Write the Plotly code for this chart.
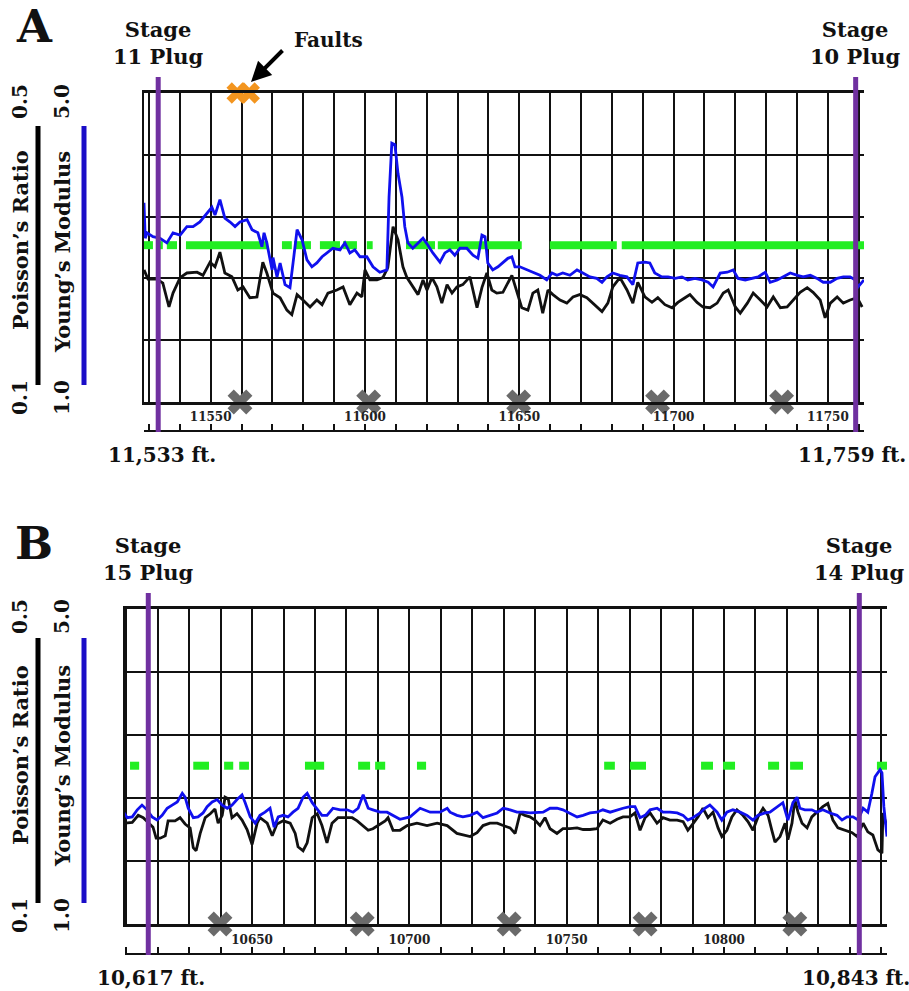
import plotly.graph_objects as go

# ---------------- panel A : Stage 11 -> Stage 10 ----------------
a_pr_depth = [11528.4, 11529.7, 11532.6, 11534.5, 11536.5, 11537.8, 11540.1, 11542.3, 11545.6, 11547.5,
              11549.8, 11551.4, 11553.0, 11554.6, 11556.9, 11558.8, 11560.5, 11562.7, 11565.0, 11566.9,
              11568.2, 11570.2, 11572.5, 11574.7, 11576.3, 11578.0, 11579.9, 11582.2, 11584.4, 11586.1,
              11588.0, 11590.9, 11592.9, 11595.1, 11597.4, 11599.0, 11600.0, 11601.6, 11603.9, 11605.8,
              11607.4, 11609.1, 11610.7, 11612.3, 11613.6, 11615.5, 11617.2, 11618.8, 11620.1, 11621.7,
              11623.3, 11624.9, 11626.6, 11628.2, 11629.8, 11631.7, 11634.0, 11636.3, 11637.9, 11639.5,
              11641.1, 11642.7, 11644.7, 11647.6, 11649.2, 11650.8, 11652.8, 11654.4, 11656.0, 11657.6,
              11659.3, 11660.9, 11663.2, 11665.4, 11667.4, 11669.6, 11671.9, 11674.5, 11676.8, 11678.7,
              11680.3, 11682.6, 11684.9, 11686.8, 11688.4, 11690.7, 11693.0, 11694.9, 11697.2, 11699.5,
              11701.4, 11703.7, 11705.3, 11707.6, 11709.5, 11711.8, 11714.1, 11716.1, 11717.7, 11720.0,
              11721.6, 11723.9, 11725.8, 11728.1, 11730.3, 11732.3, 11734.6, 11736.8, 11738.8, 11741.0,
              11743.3, 11745.2, 11747.5, 11749.1, 11750.8, 11753.0, 11755.0, 11757.2, 11759.5, 11761.1]
a_pr = [0.271, 0.259, 0.259, 0.254, 0.223, 0.241, 0.261, 0.267, 0.268, 0.264,
        0.281, 0.275, 0.294, 0.267, 0.262, 0.245, 0.249, 0.235, 0.236, 0.281,
        0.267, 0.241, 0.235, 0.219, 0.213, 0.239, 0.232, 0.223, 0.232, 0.226,
        0.241, 0.245, 0.249, 0.226, 0.241, 0.236, 0.271, 0.258, 0.258, 0.261,
        0.274, 0.327, 0.310, 0.275, 0.261, 0.249, 0.239, 0.258, 0.245, 0.261,
        0.249, 0.228, 0.252, 0.241, 0.249, 0.252, 0.262, 0.222, 0.248, 0.267,
        0.245, 0.241, 0.242, 0.264, 0.242, 0.222, 0.219, 0.241, 0.245, 0.215,
        0.245, 0.239, 0.232, 0.228, 0.236, 0.239, 0.235, 0.226, 0.217, 0.228,
        0.249, 0.261, 0.245, 0.228, 0.255, 0.236, 0.229, 0.235, 0.226, 0.222,
        0.229, 0.235, 0.239, 0.229, 0.223, 0.222, 0.228, 0.241, 0.245, 0.223,
        0.215, 0.228, 0.241, 0.232, 0.223, 0.236, 0.222, 0.223, 0.232, 0.242,
        0.248, 0.242, 0.232, 0.209, 0.228, 0.236, 0.228, 0.232, 0.235, 0.223]

a_ym_depth = [11528.4, 11528.8, 11529.4, 11531.3, 11533.6, 11535.8, 11537.8, 11540.1, 11542.3, 11544.3,
              11546.5, 11548.8, 11550.4, 11551.4, 11553.0, 11554.6, 11556.3, 11557.9, 11559.5, 11561.8,
              11563.4, 11565.3, 11566.6, 11567.3, 11568.2, 11569.9, 11570.2, 11571.5, 11572.5, 11574.1,
              11575.7, 11576.7, 11578.0, 11579.6, 11581.2, 11582.8, 11584.4, 11586.1, 11587.7, 11589.6,
              11591.9, 11593.5, 11595.1, 11596.7, 11598.4, 11600.6, 11602.6, 11604.8, 11607.1, 11607.8,
              11608.7, 11609.7, 11610.7, 11612.0, 11612.9, 11613.9, 11615.5, 11617.2, 11618.8, 11620.4,
              11622.0, 11624.3, 11625.9, 11627.5, 11629.1, 11630.8, 11633.0, 11635.0, 11636.6, 11637.9,
              11638.9, 11639.8, 11641.4, 11643.1, 11644.7, 11646.3, 11647.6, 11648.6, 11650.2, 11652.5,
              11654.4, 11656.7, 11658.9, 11660.6, 11662.2, 11664.1, 11666.4, 11668.7, 11670.6, 11672.9,
              11675.1, 11676.8, 11678.4, 11680.3, 11682.6, 11684.9, 11686.8, 11688.4, 11690.7, 11692.3,
              11693.9, 11696.2, 11698.2, 11700.5, 11702.7, 11704.6, 11706.9, 11709.2, 11711.2, 11712.8,
              11715.1, 11717.4, 11719.3, 11720.9, 11723.2, 11725.5, 11727.4, 11729.7, 11731.3, 11733.6,
              11735.5, 11737.8, 11740.1, 11742.0, 11744.3, 11746.5, 11748.5, 11750.8, 11753.0, 11755.0,
              11757.2, 11758.9, 11759.8, 11761.7]
a_ym = [3.58, 3.12, 3.19, 3.14, 3.12, 3.06, 3.19, 3.16, 3.27, 3.27,
        3.33, 3.45, 3.52, 3.42, 3.62, 3.38, 3.33, 3.27, 3.33, 3.36,
        3.23, 3.19, 3.01, 3.19, 3.06, 2.71, 2.87, 2.62, 2.80, 2.52,
        2.48, 2.80, 3.23, 3.10, 2.84, 2.75, 2.80, 2.88, 2.93, 2.99,
        2.97, 3.06, 2.93, 2.97, 2.88, 2.88, 2.75, 2.68, 2.71, 3.65,
        4.35, 4.33, 3.96, 3.65, 3.27, 3.06, 2.99, 3.06, 3.12, 3.03,
        2.93, 2.81, 2.93, 2.97, 2.90, 2.99, 2.99, 2.90, 2.86, 3.16,
        3.14, 2.80, 2.71, 2.75, 2.80, 2.86, 2.88, 2.75, 2.75, 2.71,
        2.67, 2.64, 2.58, 2.67, 2.64, 2.67, 2.64, 2.71, 2.67, 2.62,
        2.60, 2.55, 2.62, 2.67, 2.64, 2.62, 2.52, 2.80, 2.81, 2.80,
        2.67, 2.62, 2.62, 2.60, 2.62, 2.58, 2.60, 2.58, 2.55, 2.49,
        2.67, 2.68, 2.71, 2.60, 2.58, 2.60, 2.62, 2.68, 2.55, 2.58,
        2.62, 2.67, 2.64, 2.62, 2.64, 2.60, 2.55, 2.55, 2.60, 2.62,
        2.62, 2.58, 2.49, 2.58]

a_flag_start = [11528.4, 11532.6, 11535.8, 11542.0, 11573.1, 11577.0, 11585.4, 11592.9, 11600.6,
                11613.3, 11623.6, 11659.9, 11683.2]
a_flag_end = [11531.3, 11534.5, 11539.1, 11568.6, 11576.3, 11582.5, 11591.9, 11597.4, 11602.5,
              11622.7, 11650.8, 11681.6, 11761.7]
a_flag_level = 0.303
a_faults = [11558.6, 11562.5]
a_crosses = [11559.5, 11601.2, 11649.8, 11694.8, 11735.0]
a_plugs = [11533, 11759]
a_plug_names = ["Stage<br>11 Plug", "Stage<br>10 Plug"]
a_depth_labels = ["11,533 ft.", "11,759 ft."]

# ---------------- panel B : Stage 15 -> Stage 14 ----------------
b_pr_depth = [10608.7, 10609.6, 10611.9, 10613.8, 10615.4, 10617.0, 10618.5, 10619.5, 10620.8, 10622.4,
              10623.3, 10625.5, 10627.1, 10628.7, 10630.3, 10631.3, 10632.2, 10633.5, 10635.1, 10636.7,
              10638.2, 10639.2, 10640.5, 10641.4, 10642.4, 10643.6, 10645.2, 10646.8, 10648.4, 10650.0,
              10651.6, 10652.5, 10654.8, 10656.4, 10657.9, 10659.9, 10662.1, 10663.7, 10664.6, 10666.2,
              10667.5, 10669.1, 10670.7, 10672.2, 10673.8, 10675.4, 10677.3, 10679.6, 10681.8, 10683.4,
              10685.0, 10686.9, 10688.4, 10690.0, 10692.3, 10693.2, 10694.8, 10697.0, 10699.3, 10702.4,
              10705.6, 10708.8, 10712.0, 10715.1, 10717.0, 10719.3, 10721.5, 10723.4, 10725.6, 10727.9,
              10729.8, 10732.0, 10733.6, 10735.2, 10736.7, 10738.3, 10739.9, 10741.5, 10743.1, 10744.7,
              10746.9, 10748.8, 10751.0, 10753.3, 10755.2, 10757.4, 10759.6, 10761.5, 10763.8, 10766.0,
              10767.9, 10770.1, 10771.7, 10773.3, 10774.9, 10776.5, 10778.7, 10780.6, 10782.8, 10785.1,
              10787.0, 10788.5, 10790.1, 10791.7, 10793.3, 10794.9, 10796.5, 10798.1, 10799.3, 10800.9,
              10802.5, 10804.1, 10806.0, 10807.6, 10809.2, 10810.8, 10812.4, 10814.0, 10815.2, 10816.2,
              10817.8, 10819.4, 10820.3, 10821.6, 10822.5, 10823.5, 10824.8, 10826.4, 10827.9, 10829.5,
              10831.4, 10833.0, 10834.6, 10836.2, 10838.4, 10840.7, 10842.3, 10844.2, 10845.7, 10847.3,
              10848.9, 10850.2, 10850.5, 10851.8]
b_pr = [0.232, 0.228, 0.229, 0.238, 0.235, 0.229, 0.223, 0.209, 0.209, 0.212,
        0.231, 0.231, 0.235, 0.227, 0.222, 0.197, 0.193, 0.215, 0.235, 0.240,
        0.246, 0.228, 0.238, 0.261, 0.259, 0.235, 0.240, 0.232, 0.220, 0.201,
        0.228, 0.235, 0.228, 0.212, 0.227, 0.231, 0.228, 0.215, 0.198, 0.193,
        0.203, 0.235, 0.240, 0.225, 0.203, 0.228, 0.235, 0.235, 0.235, 0.231,
        0.225, 0.219, 0.221, 0.225, 0.231, 0.235, 0.219, 0.219, 0.225, 0.228,
        0.225, 0.228, 0.225, 0.215, 0.213, 0.211, 0.216, 0.225, 0.228, 0.228,
        0.225, 0.222, 0.215, 0.241, 0.238, 0.236, 0.232, 0.225, 0.235, 0.221,
        0.215, 0.221, 0.221, 0.222, 0.220, 0.220, 0.221, 0.232, 0.228, 0.233,
        0.236, 0.236, 0.241, 0.219, 0.235, 0.241, 0.228, 0.235, 0.232, 0.232,
        0.230, 0.219, 0.227, 0.236, 0.247, 0.235, 0.242, 0.222, 0.211, 0.219,
        0.236, 0.245, 0.238, 0.230, 0.219, 0.236, 0.247, 0.238, 0.219, 0.204,
        0.211, 0.228, 0.207, 0.228, 0.258, 0.242, 0.228, 0.222, 0.236, 0.242,
        0.249, 0.253, 0.232, 0.222, 0.219, 0.216, 0.211, 0.228, 0.217, 0.213,
        0.194, 0.190, 0.241, 0.223]

b_ym_depth = [10608.7, 10610.3, 10611.9, 10613.5, 10615.0, 10616.6, 10618.2, 10619.8, 10621.4, 10623.0,
              10624.6, 10626.2, 10627.8, 10628.7, 10629.7, 10631.3, 10632.8, 10634.4, 10635.7, 10637.3,
              10638.9, 10640.5, 10642.1, 10643.6, 10645.2, 10646.8, 10647.8, 10649.4, 10651.0, 10652.5,
              10654.1, 10655.7, 10657.0, 10658.3, 10659.9, 10661.4, 10663.0, 10664.6, 10666.2, 10667.5,
              10669.1, 10670.7, 10672.2, 10673.8, 10675.7, 10678.0, 10680.2, 10682.1, 10683.7, 10685.3,
              10686.9, 10688.4, 10690.7, 10692.9, 10694.8, 10697.0, 10700.2, 10703.4, 10706.6, 10709.7,
              10712.0, 10712.9, 10715.1, 10717.0, 10719.3, 10721.5, 10723.4, 10725.6, 10727.9, 10729.8,
              10732.0, 10734.2, 10736.1, 10738.3, 10740.6, 10742.5, 10744.7, 10746.9, 10748.8, 10751.0,
              10753.3, 10755.2, 10757.4, 10759.6, 10761.5, 10763.8, 10766.0, 10767.9, 10770.1, 10771.7,
              10773.3, 10774.9, 10776.5, 10778.7, 10780.6, 10782.8, 10785.1, 10787.0, 10788.5, 10790.1,
              10792.4, 10793.9, 10795.5, 10797.8, 10799.3, 10800.9, 10802.8, 10805.1, 10807.3, 10809.2,
              10810.8, 10813.0, 10814.6, 10816.8, 10818.7, 10820.3, 10821.9, 10823.2, 10824.1, 10825.7,
              10827.9, 10829.5, 10831.4, 10833.7, 10835.9, 10837.5, 10839.1, 10841.0, 10842.6, 10844.2,
              10845.7, 10847.0, 10848.0, 10849.6, 10850.2, 10850.8, 10851.8]
b_ym = [2.45, 2.35, 2.36, 2.45, 2.51, 2.45, 2.36, 2.32, 2.38, 2.47,
        2.51, 2.55, 2.66, 2.61, 2.47, 2.35, 2.36, 2.41, 2.49, 2.55,
        2.58, 2.51, 2.47, 2.51, 2.58, 2.64, 2.54, 2.36, 2.28, 2.38,
        2.42, 2.47, 2.23, 2.36, 2.38, 2.36, 2.42, 2.47, 2.61, 2.66,
        2.54, 2.45, 2.38, 2.38, 2.47, 2.45, 2.45, 2.42, 2.47, 2.64,
        2.47, 2.45, 2.42, 2.42, 2.38, 2.33, 2.36, 2.47, 2.42, 2.42,
        2.47, 2.42, 2.38, 2.36, 2.38, 2.42, 2.35, 2.38, 2.41, 2.47,
        2.45, 2.42, 2.42, 2.41, 2.42, 2.42, 2.47, 2.47, 2.45, 2.41,
        2.36, 2.38, 2.41, 2.42, 2.45, 2.42, 2.45, 2.47, 2.49, 2.49,
        2.35, 2.38, 2.45, 2.47, 2.42, 2.42, 2.41, 2.38, 2.32, 2.35,
        2.41, 2.47, 2.51, 2.42, 2.32, 2.42, 2.45, 2.42, 2.38, 2.32,
        2.38, 2.41, 2.42, 2.49, 2.54, 2.32, 2.54, 2.61, 2.47, 2.45,
        2.45, 2.42, 2.45, 2.41, 2.38, 2.32, 2.36, 2.36, 2.32, 2.47,
        2.42, 2.66, 2.87, 2.96, 2.92, 2.49, 2.11]

b_flag_start = [10611.2, 10631.3, 10641.1, 10645.9, 10666.8, 10683.7, 10689.1, 10702.4,
                10761.9, 10770.1, 10792.7, 10799.7, 10814.0, 10821.0, 10848.6]
b_flag_end = [10614.1, 10636.3, 10644.0, 10649.0, 10672.9, 10687.5, 10692.3, 10705.3,
              10765.3, 10775.2, 10796.5, 10803.5, 10817.5, 10825.1, 10851.8]
b_flag_level = 0.301
b_crosses = [10639.8, 10685.0, 10731.7, 10774.9, 10822.5]
b_plugs = [10617, 10843]
b_plug_names = ["Stage<br>15 Plug", "Stage<br>14 Plug"]
b_depth_labels = ["10,617 ft.", "10,843 ft."]

PR_RANGE = [0.1, 0.5]
YM_RANGE = [1.0, 5.0]

W, H = 909, 991
FONT = "DejaVu Serif"
INK = "#111111"
BLUE = "#1010ee"
GREEN = "#22ee22"
PURPLE = "#7030a0"
GREY = "#6a6a6a"
ORANGE = "#f3951f"
SCALE_BLUE = "#1a0dc8"


def fx(p):
    return p / W


def fy(p):
    return 1 - p / H


def akey(name):
    return name[0] + "axis" + name[1:]


fig = go.Figure()
shapes = []
notes = []


def bold(size, color=INK):
    return dict(family=FONT, size=size, color=color, weight="bold")


def note(x, y, text, size, xref="paper", angle=0, **kw):
    # every label is centred on the given point
    d = dict(x=x, y=fy(y), xref=xref, yref="paper", text=text, showarrow=False,
             xanchor="center", yanchor="middle", textangle=angle, font=bold(size))
    d.update(kw)
    notes.append(d)


def add_panel(ids, box, xr, pr_depth, pr, ym_depth, ym, f_start, f_end, f_level,
              crosses, plugs, plug_names, depth_labels, letter, leg):
    xm, xs, ypr, yym, ys = ids
    left, right, top, base, strip = box

    # green flag track
    gx, gy = [], []
    for s, e in zip(f_start, f_end):
        gx += [s, e, None]
        gy += [f_level, f_level, None]
    fig.add_trace(go.Scatter(x=gx, y=gy, xaxis=xm, yaxis=ypr, mode="lines",
                             line=dict(color=GREEN, width=8), hoverinfo="skip"))
    fig.add_trace(go.Scatter(x=pr_depth, y=pr, xaxis=xm, yaxis=ypr, mode="lines",
                             line=dict(color=INK, width=2.8)))
    fig.add_trace(go.Scatter(x=crosses, y=[PR_RANGE[0]] * len(crosses), xaxis=xm, yaxis=ypr,
                             mode="markers", cliponaxis=False,
                             marker=dict(symbol="x", size=22, color=GREY)))
    fig.add_trace(go.Scatter(x=ym_depth, y=ym, xaxis=xm, yaxis=yym, mode="lines",
                             line=dict(color=BLUE, width=2.8)))
    # invisible trace so the depth strip subplot gets drawn
    fig.add_trace(go.Scatter(x=crosses, y=[0.5] * len(crosses), xaxis=xs, yaxis=ys,
                             mode="markers", marker=dict(opacity=0), hoverinfo="skip"))

    grid = dict(showgrid=True, gridcolor=INK, gridwidth=2, showticklabels=False,
                ticks="", zeroline=False, fixedrange=True)
    fig.update_layout(**{
        akey(xm): dict(domain=[fx(left), fx(right)], range=xr, anchor=ypr, tick0=0, dtick=10,
                       showline=True, mirror=True, linecolor=INK, linewidth=3, **grid),
        akey(ypr): dict(domain=[fy(base), fy(top)], range=PR_RANGE, anchor=xm, tick0=0.1, dtick=0.08,
                        showline=True, linecolor=INK, linewidth=2, **grid),
        akey(yym): dict(overlaying=ypr, range=YM_RANGE, visible=False, anchor=xm),
        akey(xs): dict(domain=[fx(left), fx(right)], range=xr, anchor=ys, showgrid=False,
                       zeroline=False, showline=True, linecolor=INK, linewidth=2,
                       ticks="inside", ticklen=6, tickwidth=2, tickcolor=INK,
                       tick0=0, dtick=50, tickformat="d", ticklabelposition="inside",
                       tickfont=bold(12, "#222222"), fixedrange=True,
                       minor=dict(ticks="inside", tick0=0, dtick=10, ticklen=6,
                                  tickwidth=2, tickcolor=INK)),
        akey(ys): dict(domain=[fy(strip), fy(base)], range=[0, 1], visible=False,
                       anchor=xs, fixedrange=True),
    })

    # plug markers
    for d, name, lab, lx in zip(plugs, plug_names, depth_labels, leg["depth_x"]):
        shapes.append(dict(type="line", xref=xm, yref="paper", x0=d, x1=d,
                           y0=fy(top - 16), y1=fy(strip + 2),
                           line=dict(color=PURPLE, width=5), layer="above"))
        note(d, top - 50, name, 21, xref=xm, align="center")
        note(fx(lx), strip + 25, lab, 20)

    # panel letter
    note(fx(34), top - 66, letter, 45)

    # scale legend on the left
    for cx, tx, color, title, hi, lo, tc in [
            (38, 20, "black", "Poisson’s Ratio", "0.5", "0.1", leg["pr"]),
            (84, 62, SCALE_BLUE, "Young’s Modulus", "5.0", "1.0", leg["ym"])]:
        shapes.append(dict(type="line", xref="paper", yref="paper", x0=fx(cx), x1=fx(cx),
                           y0=fy(leg["bar"][0]), y1=fy(leg["bar"][1]),
                           line=dict(color=color, width=5)))
        note(fx(tx), tc, title, 21, angle=-90)
        note(fx(tx), leg["hi"], hi, 20, angle=-90)
        note(fx(tx), leg["lo"], lo, 20, angle=-90)


add_panel(("x", "x2", "y", "y2", "y3"), (144, 864, 93, 402, 430), [11528.4, 11761.7],
          a_pr_depth, a_pr, a_ym_depth, a_ym, a_flag_start, a_flag_end, a_flag_level,
          a_crosses, a_plugs, a_plug_names, a_depth_labels, "A",
          dict(depth_x=[162, 852], bar=(126, 385), hi=102, lo=398, pr=240, ym=252))

add_panel(("x3", "x4", "y4", "y5", "y6"), (125, 887, 609, 924, 953), [10609.6, 10851.8],
          b_pr_depth, b_pr, b_ym_depth, b_ym, b_flag_start, b_flag_end, b_flag_level,
          b_crosses, b_plugs, b_plug_names, b_depth_labels, "B",
          dict(depth_x=[151, 856], bar=(638, 903), hi=617, lo=916, pr=755, ym=766))

# faults on panel A
fig.add_trace(go.Scatter(x=a_faults, y=[PR_RANGE[1]] * len(a_faults), xaxis="x", yaxis="y",
                         mode="markers", cliponaxis=False,
                         marker=dict(symbol="x", size=19, color=ORANGE)))
note(fx(328), 40, "Faults", 20)
notes.append(dict(x=fx(251), y=fy(82), xref="paper", yref="paper", text="",
                  showarrow=True, ax=33, ay=-33, arrowhead=2, arrowsize=1,
                  arrowwidth=4, arrowcolor="black"))

fig.update_layout(width=W, height=H, margin=dict(l=0, r=0, t=0, b=0),
                  paper_bgcolor="white", plot_bgcolor="white", showlegend=False,
                  shapes=shapes, annotations=notes)

fig.write_html("out.html", config={"displayModeBar": False},
               post_script="document.body.style.margin='0px';")
